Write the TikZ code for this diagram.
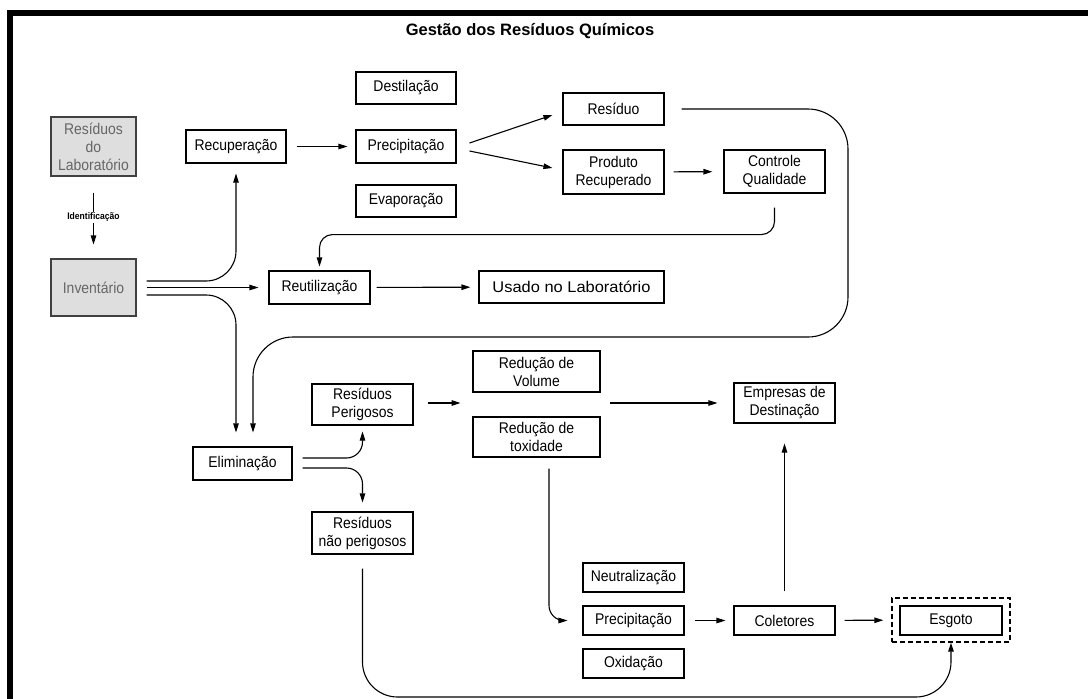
\documentclass[tikz,border=0pt]{standalone}
\usepackage{fontspec}
\setmainfont[FakeStretch=0.9]{Liberation Sans}
\newfontfamily\titlefont{Liberation Sans}
\newfontfamily\widefont[FakeStretch=1.06]{Liberation Sans}
\usetikzlibrary{arrows.meta,calc}
\definecolor{boxgray}{HTML}{DEDEDE}
\definecolor{txtgray}{HTML}{666666}
\tikzset{
  box/.style={draw=black, line width=1.1pt, fill=white, align=center,
    inner sep=0pt, font=\fontsize{15.5}{18}\selectfont},
  graybox/.style={box, fill=boxgray, text=txtgray, draw=black!75},
  arr/.style={line width=1.1pt, -{Triangle[length=9pt,width=5.5pt]}},
  ln/.style={line width=1.1pt},
}
\begin{document}
\begin{tikzpicture}[x=1pt,y=-1pt]
\useasboundingbox (0,0) rectangle (1088,699);
\fill[white] (0,0) rectangle (1088,699);
% frame bars
\fill[black] (7,10) rectangle (1088,16);
\fill[black] (7,10) rectangle (13,699);

\node[font=\titlefont\bfseries\fontsize{16.5}{18}\selectfont] (title) at (530,31) {Gestão dos Resíduos Químicos};

% left column
\node[graybox, minimum width=85pt, minimum height=59pt] (reslab) at (93.5,146.5) {Resíduos\\do\\Laboratório};
\node[graybox, minimum width=85pt, minimum height=57pt] (inv) at (93.5,287.5) {Inventário};

% recovery branch
\node[box, minimum width=100pt, minimum height=33pt] (recup) at (236,146.5) {Recuperação};
\node[box, minimum width=100pt, minimum height=32pt] (destil) at (406,88) {Destilação};
\node[box, minimum width=100pt, minimum height=33pt] (precA) at (406,146.5) {Precipitação};
\node[box, minimum width=100pt, minimum height=32pt] (evap) at (406,201) {Evaporação};
\node[box, minimum width=101pt, minimum height=32pt] (residuo) at (613.5,109) {Resíduo};
\node[box, minimum width=101pt, minimum height=44pt] (produto) at (613.5,172) {Produto\\Recuperado};
\node[box, minimum width=101pt, minimum height=43pt] (controle) at (774.5,171.5) {Controle\\Qualidade};

% reuse branch
\node[box, minimum width=101pt, minimum height=33pt] (reutil) at (319.5,287.5) {Reutilização};
\node[box, minimum width=185pt, minimum height=32pt, font=\widefont\fontsize{15.5}{18}\selectfont] (usado) at (571.5,287) {Usado no Laboratório};

% disposal branch
\node[box, minimum width=99pt, minimum height=33pt] (elim) at (242.5,463.5) {Eliminação};
\node[box, minimum width=101pt, minimum height=41pt] (perig) at (362.5,404.5) {Resíduos\\Perigosos};
\node[box, minimum width=101pt, minimum height=42pt] (naoperig) at (362.5,533) {Resíduos\\não perigosos};
\node[box, minimum width=127pt, minimum height=41pt] (redvol) at (536.5,371.5) {Redução de\\Volume};
\node[box, minimum width=127pt, minimum height=40pt] (redtox) at (536.5,437) {Redução de\\toxidade};
\node[box, minimum width=101pt, minimum height=40pt] (empresas) at (784.5,403) {Empresas de\\Destinação};
\node[box, minimum width=101pt, minimum height=29pt] (neutral) at (633.5,577.5) {Neutralização};
\node[box, minimum width=101pt, minimum height=29pt] (precB) at (633.5,620.5) {Precipitação};
\node[box, minimum width=101pt, minimum height=29pt] (oxid) at (633.5,663.5) {Oxidação};
\node[box, minimum width=101pt, minimum height=29pt] (coletores) at (784.5,620.5) {Coletores};
\node[draw=black, line width=1.4pt, dash pattern=on 5pt off 3pt, minimum width=118pt, minimum height=44pt, inner sep=0pt] (esgfr) at (951,620) {};
\node[box, minimum width=102pt, minimum height=29pt] (esgoto) at (951,620.5) {Esgoto};

% free points of the long return lines
\coordinate (loopR) at (848,337);
\coordinate (botline) at (650,697);
\coordinate (redmid) at (610,403);

% connectors
\draw[arr, shorten <=16pt, shorten >=14pt] (reslab) -- node[fill=white, inner sep=1.5pt, font=\bfseries\fontsize{9.5}{11}\selectfont] (ident) {Identificação} (inv);

\draw[arr, rounded corners=30pt, shorten >=10pt] ([xshift=10pt,yshift=6.5pt]inv.east) -| (recup);
\draw[arr, shorten >=10pt] ([xshift=10pt]inv.east) -- (reutil);
\draw[arr, rounded corners=30pt, shorten >=14pt] ([xshift=10pt,yshift=-7.5pt]inv.east) -| ([xshift=-6.5pt]elim.north);

\draw[arr, shorten <=10pt, shorten >=8pt] (recup) -- (precA);
\draw[arr] ([xshift=13pt,yshift=3.5pt]precA.east) -- ([xshift=-10pt,yshift=-6pt]residuo.west);
\draw[arr] ([xshift=13pt,yshift=-4.5pt]precA.east) -- ([xshift=-10pt,yshift=4pt]produto.west);
\draw[arr, shorten <=9pt, shorten >=11pt] (produto) -- (controle);

\draw[arr, rounded corners=13pt, shorten >=4pt] ([yshift=-14pt]controle.south) -- ([yshift=-41pt]controle.south) -| (reutil);
\draw[arr, shorten <=6pt, shorten >=8pt] (reutil) -- (usado);

\draw[arr, rounded corners=40pt, shorten >=14pt] ([xshift=17pt]residuo.east) -| (loopR) -| ([xshift=10.5pt]elim.north);

\draw[arr, rounded corners=16pt, shorten >=6pt] ([xshift=10pt,yshift=5.5pt]elim.east) -| (perig);
\draw[arr, rounded corners=16pt, shorten >=9pt] ([xshift=10pt,yshift=-4.5pt]elim.east) -| (naoperig);

\draw[arr] ([xshift=14pt,yshift=1.5pt]perig.east) -- ([xshift=47pt,yshift=1.5pt]perig.east);
\draw[arr, shorten >=16pt] (redmid) -- (empresas);

\draw[arr, rounded corners=15pt, shorten >=15pt] ([xshift=12.5pt,yshift=-11pt]redtox.south) |- (precB);
\draw[arr, shorten <=10pt, shorten >=8pt] (precB) -- (coletores);
\draw[arr, shorten <=9pt, shorten >=8pt] (coletores) -- (esgfr);
\draw[arr, shorten <=14pt, shorten >=20pt] (coletores) -- (empresas);

\draw[arr, rounded corners=35pt] ([yshift=-14pt]naoperig.south) |- (botline) -| (esgfr);
\end{tikzpicture}
\end{document}
